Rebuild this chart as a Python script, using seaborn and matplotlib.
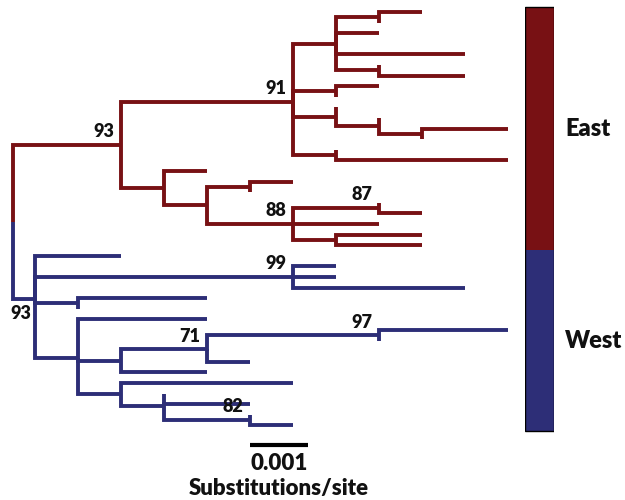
#!/usr/bin/env python3
"""Phylogenetic tree of East / West samples with bootstrap support and a region bar."""
import matplotlib
matplotlib.use("Agg")
import matplotlib.pyplot as plt
import numpy as np
import pandas as pd
import seaborn as sns

# ── tree data ───────────────────────────────────────────────────────────────
# nodes listed depth-first; tips are drawn top to bottom in this order.
# branch lengths are in substitutions (converted with SEQ_LEN to subs/site).
NODE = ["root",
        "E93", "E91", "a", "a1", "t0", "t1", "t2", "t3", "t4", "a2", "t5", "t6",
        "b", "t7", "t8", "c", "t9", "c1", "t10", "c2", "t11", "t12",
        "d", "t13", "t14",
        "e", "t15", "e1", "e2", "t16", "t17", "E88", "E87", "t18", "t19",
        "t20", "e3", "t21", "t22",
        "W93", "t23", "W99", "t24", "t25", "t26", "f", "t27", "t28",
        "g", "t29", "g1", "W71", "W97", "t30", "t31", "t32", "t33", "t34",
        "g2", "t35", "g3", "t36", "t37", "W82", "t38", "t39"]
PARENT = [None,
          "root", "E93", "E91", "a", "a1", "a1", "a", "a", "a", "a", "a2", "a2",
          "E91", "b", "b", "E91", "c", "c", "c1", "c1", "c2", "c2",
          "E91", "d", "d",
          "E93", "e", "e", "e1", "e2", "e2", "e1", "E88", "E87", "E87",
          "E88", "E88", "e3", "e3",
          "root", "W93", "W93", "W99", "W99", "W99", "W93", "f", "f",
          "W93", "g", "g", "g1", "W71", "W97", "W97", "W71", "W71", "g1",
          "g", "g2", "g2", "g3", "g3", "g3", "W82", "W82"]
N_SUBS = [0,
          2.5, 4, 1, 1, 1, 0, 1, 0, 3, 1, 0, 2,
          1, 1, 0, 1, 0, 1, 0, 1, 2, 0,
          1, 0, 4,
          1, 1, 1, 1, 1, 0, 2, 2, 0, 1,
          2, 1, 2, 2,
          0.5, 2, 6, 1, 1, 4, 1, 3, 0,
          1, 3, 1, 2, 4, 3, 0, 0, 1, 2,
          1, 4, 1, 0, 2, 2, 0, 1]
SEQ_LEN = 1357

SUPPORT_NODES = ["E93", "E91", "E88", "E87", "W93", "W99", "W71", "W97", "W82"]
SUPPORT_VALUES = [93, 91, 88, 87, 93, 99, 71, 97, 82]
LABEL_BELOW = ["W93"]

REGIONS = ["East", "West"]
REGION_CLADES = ["E93", "W93"]
PALETTE = {"East": "#781114", "West": "#2d2e77"}

SCALE_LEN = 0.001
SCALE_LABEL = "0.001"
SCALE_TITLE = "Substitutions/site"


def layout():
    children = {n: [] for n in NODE}
    parent = dict(zip(NODE, PARENT))
    blen = dict(zip(NODE, N_SUBS))
    for n, p in zip(NODE, PARENT):
        if p is not None:
            children[p].append(n)
    tips = [n for n in NODE if not children[n]]

    xpos, ypos = {}, {t: float(i) for i, t in enumerate(tips)}
    for n in NODE:
        p = parent[n]
        xpos[n] = 0.0 if p is None else xpos[p] + blen[n] / SEQ_LEN
    for n in reversed(NODE):
        if children[n]:
            ypos[n] = float(np.mean([ypos[c] for c in children[n]]))

    region = {}
    for n in NODE:
        p = parent[n]
        if n in REGION_CLADES:
            region[n] = REGIONS[REGION_CLADES.index(n)]
        elif p is not None:
            region[n] = region[p]
    return parent, tips, xpos, ypos, region


def main():
    sns.set_theme(style="white")
    plt.rcParams["font.family"] = ["Lato", "DejaVu Sans"]

    parent, tips, xpos, ypos, region = layout()

    rows = []
    for n in NODE:
        p = parent[n]
        if p is None:
            continue
        for x, y in [(xpos[p], ypos[p]), (xpos[p], ypos[n]), (xpos[n], ypos[n])]:
            rows.append({"edge": n, "region": region[n], "x": x, "y": y})
    edges = pd.DataFrame(rows)

    fig = plt.figure(figsize=(6.25, 5), dpi=100)
    ax = fig.add_axes([0, 0, 1, 1])
    sns.lineplot(data=edges, x="x", y="y", hue="region", units="edge",
                 estimator=None, sort=False, palette=PALETTE, legend=False,
                 linewidth=2.8, solid_joinstyle="miter", solid_capstyle="butt", ax=ax)

    # bootstrap support
    for n, s in zip(SUPPORT_NODES, SUPPORT_VALUES):
        offset = (-2, -15) if n in LABEL_BELOW else (-4.5, 5.5)
        ax.annotate(str(s), xy=(xpos[n], ypos[n]), xytext=offset, textcoords="offset points",
                    ha="right", va="baseline", fontsize=13, fontweight="heavy", color="#111111")

    # scale bar
    sx = 0.00405
    sy = len(tips) + 0.85
    ax.plot([sx, sx + SCALE_LEN], [sy, sy], color="black", linewidth=3, solid_capstyle="butt")
    ax.annotate(SCALE_LABEL, xy=(sx + SCALE_LEN / 2, sy), xytext=(0, -13.5), textcoords="offset points",
                ha="center", va="center", fontsize=16, fontweight="heavy", color="#111111")
    ax.annotate(SCALE_TITLE, xy=(sx + SCALE_LEN / 2, sy), xytext=(0, -31.5), textcoords="offset points",
                ha="center", va="center", fontsize=16, fontweight="heavy", color="#111111")

    ax.set_xlim(-0.0002226, 0.010479)
    ax.set_ylim(46.04, -1.132)
    ax.axis("off")

    # region bar
    ax2 = fig.add_axes([525 / 625, 0, 29 / 625, 1], sharey=ax)
    counts = pd.Series([region[t] for t in tips]).value_counts()
    start = -0.5
    for r in REGIONS:
        ax2.bar(0, counts[r], bottom=start, width=1, color=PALETTE[r], linewidth=0)
        ax2.annotate(r, xy=(1, start + counts[r] / 2), xycoords=("axes fraction", "data"),
                     xytext=(8, 0), textcoords="offset points", ha="left", va="center",
                     fontsize=17, fontweight="heavy", color="#111111")
        start += counts[r]
    ax2.bar(0, len(tips), bottom=-0.5, width=1, fill=False, edgecolor="black", linewidth=1)
    ax2.set_xlim(-0.5, 0.5)
    ax2.axis("off")

    fig.savefig("out.png", dpi=100)
    plt.close(fig)


if __name__ == "__main__":
    main()
